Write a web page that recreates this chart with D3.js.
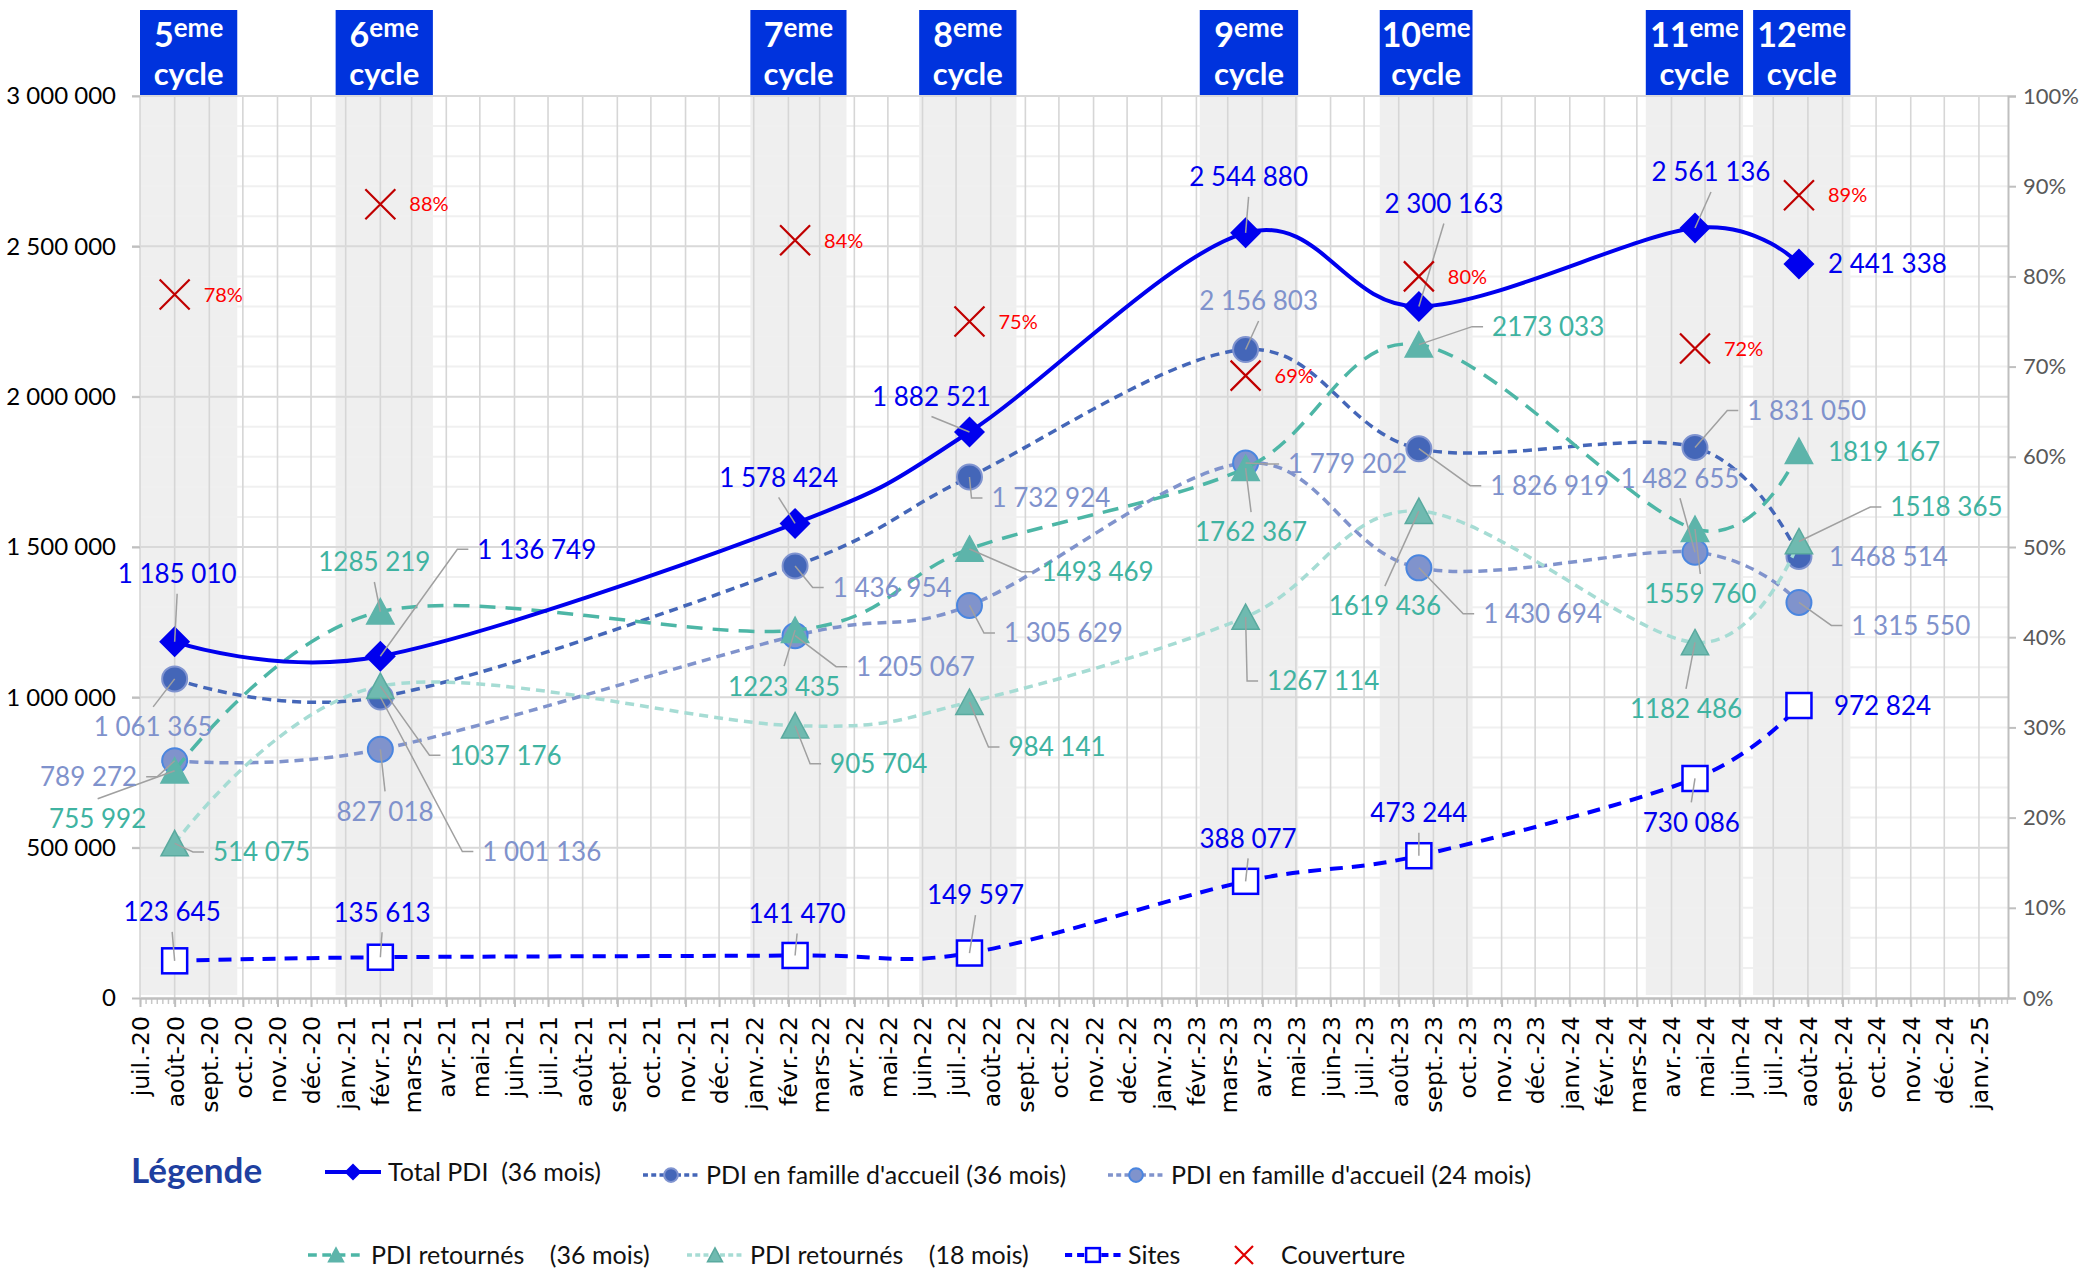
<!DOCTYPE html>
<html>
<head>
<meta charset="utf-8">
<script src="https://cdn.jsdelivr.net/npm/d3@7"></script>
<style>
  body { margin: 0; background: #fff; }
  svg text { font-family: Lato, "Open Sans", sans-serif; }
</style>
</head>
<body>
<svg id="chart" width="2080" height="1269"></svg>
<script>
// données des cycles
const cycles = ["5", "6", "7", "8", "9", "10", "11", "12"];
const cycleDates = ["2020-08-01", "2021-02-01", "2022-02-07", "2022-07-13", "2023-03-17", "2023-08-19", "2024-04-22", "2024-07-24"];
const cycleStart = ["2020-07-01", "2020-12-23", "2021-12-29", "2022-05-29", "2023-02-04", "2023-07-15", "2024-03-09", "2024-06-13"];
const cycleEnd = ["2020-09-26", "2021-03-20", "2022-03-25", "2022-08-24", "2023-05-03", "2023-10-06", "2024-06-04", "2024-09-08"];

const totalPDI = [1185010, 1136749, 1578424, 1882521, 2544880, 2300163, 2561136, 2441338];
const famille36 = [1061365, 1001136, 1436954, 1732924, 2156803, 1826919, 1831050, 1468514];
const famille24 = [789272, 827018, 1205067, 1305629, 1779202, 1430694, 1482655, 1315550];
const retournes36 = [755992, 1285219, 1223435, 1493469, 1762367, 2173033, 1559760, 1819167];
const retournes18 = [514075, 1037176, 905704, 984141, 1267114, 1619436, 1182486, 1518365];
const sites = [123645, 135613, 141470, 149597, 388077, 473244, 730086, 972824];
const couverture = [0.78, 0.88, 0.84, 0.75, 0.69, 0.80, 0.72, 0.89];

const moisAbbr = ["janv.", "févr.", "mars", "avr.", "mai", "juin", "juil.", "août", "sept.", "oct.", "nov.", "déc."];
const xStart = "2020-07-01", xEnd = "2025-01-27";
const leftMax = 3000000;

// placement des étiquettes (décalage par rapport au point)
const offTotal = [[2.5, -68, "v"], [97, -107, "h"], [-16.5, -46, "v"], [-38, -35.5, "v"], [3, -56, "v"], [25, -103, "v"], [16, -56, "v"], [29, 0, "r"]];
const offFam36 = [[-21.5, 48, "v"], [102, 154.5, "h"], [37.6, 21.5, "h"], [22, 21, "h"], [13, -48.5, "v"], [71.4, 37, "h"], [52.3, -37, "h"], [30, 0.5, "r"]];
const offFam24 = [[-37.5, 16, "hl"], [4.7, 62, "v"], [61, 31, "h"], [34.5, 27.6, "h"], [42.5, 1, "h"], [64.3, 46, "h"], [-15, -74, "v"], [52.4, 23, "h"]];
const offRet36 = [[-77, 48, "v"], [-6, -49.6, "v"], [-11, 56, "v"], [72, 22.7, "h"], [5.5, 64, "v"], [73.2, -18, "h"], [5.3, 65, "v"], [29, 1, "r"]];
const offRet18 = [[38.3, 8.6, "h"], [69.1, 69, "h"], [35, 38, "h"], [39, 45, "h"], [21.5, 64, "h"], [-34, 95, "v"], [-9, 66.5, "v"], [91.4, -34.5, "h"]];
const offSites = [[-2.5, -49, "v"], [1.7, -45, "v"], [2, -42, "v"], [6, -58, "v"], [2.5, -43, "v"], [0, -43, "v"], [-3.7, 44, "v"], [35, 0.5, "r"]];

const svg = d3.select("#chart");
const plotLeft = 140, plotRight = 2008, plotTop = 96, plotBottom = 998;
const parse = d3.timeParse("%Y-%m-%d");

const x = d3.scaleTime().domain([parse(xStart), parse(xEnd)]).range([plotLeft, plotRight]);
const y = d3.scaleLinear().domain([0, leftMax]).range([plotBottom, plotTop]);
const yR = d3.scaleLinear().domain([0, 1]).range([plotBottom, plotTop]);

const fr = d3.formatLocale({ decimal: ",", thousands: " ", grouping: [3], currency: ["", " €"] });
const fmtSpace = fr.format(",d");
const fmtRet = v => v >= 1e6 ? Math.floor(v / 1000) + " " + String(v % 1000).padStart(3, "0") : fmtSpace(v);
const fmtMonth = d => `${moisAbbr[d.getMonth()]}-${String(d.getFullYear()).slice(2)}`;

const dates = cycleDates.map(parse);

// bandes grises des cycles
svg.append("g").selectAll("rect")
    .data(cycles)
    .enter()
    .append("rect")
    .attr("x", (d, i) => x(parse(cycleStart[i])))
    .attr("width", (d, i) => x(parse(cycleEnd[i])) - x(parse(cycleStart[i])))
    .attr("y", plotTop)
    .attr("height", plotBottom - plotTop - 3)
    .attr("fill", "#efefef");

// grille
const grid = svg.append("g");
grid.selectAll(".hminor")
    .data(d3.range(0, leftMax + 1, 100000).filter(v => v % 500000 !== 0))
    .enter()
    .append("line")
    .attr("x1", plotLeft).attr("x2", plotRight)
    .attr("y1", d => y(d)).attr("y2", d => y(d))
    .attr("stroke", "#f0f0f0")
    .attr("stroke-width", 2);

grid.selectAll(".vgrid")
    .data(d3.timeMonth.range(parse(xStart), parse(xEnd)))
    .enter()
    .append("line")
    .attr("x1", d => x(d)).attr("x2", d => x(d))
    .attr("y1", plotTop).attr("y2", plotBottom)
    .attr("stroke", "#d6d6d6")
    .attr("stroke-width", 1.6);

grid.selectAll(".hmajor")
    .data(d3.range(500000, leftMax + 1, 500000))
    .enter()
    .append("line")
    .attr("x1", plotLeft - 8).attr("x2", plotRight)
    .attr("y1", d => y(d)).attr("y2", d => y(d))
    .attr("stroke", "#d9d9d9")
    .attr("stroke-width", 2);

// axe gauche
const yAxis = svg.append("g")
    .attr("transform", `translate(${plotLeft},0)`)
    .call(d3.axisLeft(y).tickValues(d3.range(0, leftMax + 1, 500000)).tickFormat(fmtSpace).tickSize(8).tickPadding(16));
yAxis.select(".domain").remove();
yAxis.selectAll("line").attr("stroke", "#bfbfbf").attr("stroke-width", 2);
yAxis.selectAll("text").style("font-size", "24px").attr("fill", "#000");

// axe droit
const yAxisR = svg.append("g")
    .attr("transform", `translate(${plotRight},0)`)
    .call(d3.axisRight(yR).tickValues(d3.range(0, 1.0001, 0.1)).tickFormat(d3.format(".0%")).tickSize(8).tickPadding(7));
yAxisR.select(".domain").attr("stroke", "#bfbfbf").attr("stroke-width", 2);
yAxisR.selectAll("line").attr("stroke", "#bfbfbf").attr("stroke-width", 2);
yAxisR.selectAll("text").style("font-size", "22px").attr("fill", "#595959");

// axe des dates
const xMinor = svg.append("g")
    .attr("transform", `translate(0,${plotBottom})`)
    .call(d3.axisBottom(x).ticks(d3.timeDay.every(5)).tickFormat("").tickSize(6));
xMinor.select(".domain").remove();
xMinor.selectAll("line").attr("stroke", "#c8c8c8").attr("stroke-width", 1.5);

const xAxis = svg.append("g")
    .attr("transform", `translate(0,${plotBottom})`)
    .call(d3.axisBottom(x).ticks(d3.timeMonth.every(1)).tickFormat(fmtMonth).tickSize(9).tickSizeOuter(0));
xAxis.select(".domain").attr("stroke", "#bfbfbf").attr("stroke-width", 2.5);
xAxis.selectAll("line").attr("stroke", "#bfbfbf").attr("stroke-width", 2);
xAxis.selectAll("text")
    .attr("transform", "rotate(-90)")
    .attr("text-anchor", "end")
    .attr("x", -18)
    .attr("y", 0)
    .attr("dy", "0.36em")
    .attr("fill", "#000")
    .style("font-family", "'DejaVu Sans', sans-serif")
    .style("font-size", "23.5px");

// en-têtes des cycles
const hdr = svg.append("g");
cycles.forEach((c, i) => {
    const x0 = x(parse(cycleStart[i])), x1 = x(parse(cycleEnd[i]));
    const cx = (x0 + x1) / 2;
    hdr.append("rect")
        .attr("x", x0).attr("y", 10)
        .attr("width", x1 - x0).attr("height", plotTop - 11)
        .attr("fill", "#0033dd");
    const t = hdr.append("text")
        .attr("text-anchor", "middle")
        .attr("fill", "#fff")
        .attr("font-weight", "bold");
    t.append("tspan").attr("x", cx).attr("y", 47).style("font-size", "34px").text(c);
    t.append("tspan").style("font-size", "26px").attr("dy", -10).text("eme");
    t.append("tspan").attr("x", cx).attr("y", 85).style("font-size", "31px").text("cycle");
});

// marqueurs
function marker(sel, type, s) {
    if (type === "diamond") {
        sel.append("path").attr("d", `M0,${-s.r}L${s.r},0L0,${s.r}L${-s.r},0Z`).attr("fill", s.fill);
    } else if (type === "circle") {
        sel.append("circle").attr("r", s.r).attr("fill", s.fill).attr("stroke", s.stroke).attr("stroke-width", 2);
    } else if (type === "triangle") {
        sel.append("path").attr("d", `M0,${-s.r}L${s.r * 1.05},${s.r * 0.95}L${-s.r * 1.05},${s.r * 0.95}Z`)
            .attr("fill", s.fill).attr("stroke", s.stroke).attr("stroke-width", 1.5);
    } else if (type === "square") {
        sel.append("rect").attr("x", -s.r).attr("y", -s.r).attr("width", 2 * s.r).attr("height", 2 * s.r)
            .attr("fill", "#fff").attr("stroke", s.stroke).attr("stroke-width", 2.5);
    } else if (type === "cross") {
        sel.append("path").attr("d", `M${-s.r},${-s.r}L${s.r},${s.r}M${s.r},${-s.r}L${-s.r},${s.r}`)
            .attr("stroke", s.stroke).attr("stroke-width", 2.2).attr("fill", "none");
    }
}

const series = [
    { name: "PDI en famille d'accueil (36 mois)", values: famille36, offsets: offFam36, fmt: fmtSpace,
      color: "#4466b8", dash: "9,6", width: 3.5, marker: "circle", mk: { r: 12.5, fill: "#4466b8", stroke: "#8094d0" }, labelColor: "#7f92cc" },
    { name: "PDI en famille d'accueil (24 mois)", values: famille24, offsets: offFam24, fmt: fmtSpace,
      color: "#8093cc", dash: "9,6", width: 3.5, marker: "circle", mk: { r: 12.5, fill: "#8093cc", stroke: "#4a86e0" }, labelColor: "#7f92cc" },
    { name: "PDI retournés    (36 mois)", values: retournes36, offsets: offRet36, fmt: fmtRet,
      color: "#4db6a6", dash: "16,10", width: 3.5, marker: "triangle", mk: { r: 13, fill: "#5db4aa", stroke: "#5db4aa" }, labelColor: "#3fb3a1" },
    { name: "PDI retournés    (18 mois)", values: retournes18, offsets: offRet18, fmt: fmtRet,
      color: "#a6dcd4", dash: "9,6", width: 3.5, marker: "triangle", mk: { r: 13, fill: "#6fbab0", stroke: "#5aaa9f" }, labelColor: "#3fb3a1" },
    { name: "Total PDI  (36 mois)", values: totalPDI, offsets: offTotal, fmt: fmtSpace,
      color: "#0000ee", dash: null, width: 4, marker: "diamond", mk: { r: 15.5, fill: "#0000ee" }, labelColor: "#0000ee" },
    { name: "Sites", values: sites, offsets: offSites, fmt: fmtSpace,
      color: "#0000ff", dash: "13,9", width: 4, marker: "square", mk: { r: 12.5, stroke: "#0000ff" }, labelColor: "#0000ee" }
];

const lineG = svg.append("g");
const leaderG = svg.append("g");
const labelG = svg.append("g");

series.forEach(s => {
    const pts = s.values.map((v, i) => [x(dates[i]), y(v)]);
    const g = lineG.append("g");
    g.append("path")
        .attr("d", d3.line().curve(d3.curveCardinal.tension(0))(pts))
        .attr("fill", "none")
        .attr("stroke", s.color)
        .attr("stroke-width", s.width)
        .attr("stroke-dasharray", s.dash);
    pts.forEach(p => marker(g.append("g").attr("transform", `translate(${p[0]},${p[1]})`), s.marker, s.mk));
    pts.forEach((p, i) => addLabel(p[0], p[1], s.offsets[i], s.fmt(s.values[i]), s.labelColor));
});

function addLabel(px, py, off, text, color) {
    const [dx, dy, type] = off;
    const cy = py + dy;
    labelG.append("text")
        .attr("x", px + dx)
        .attr("y", cy)
        .attr("dy", "0.36em")
        .attr("fill", color)
        .style("font-size", "26px")
        .attr("text-anchor", type === "v" ? "middle" : type === "hl" ? "end" : "start")
        .text(text);
    let pts = null;
    if (type === "h") {
        const lx = px + dx - 9;
        pts = [[px, py], [lx - 11, cy], [lx, cy]];
    } else if (type === "hl") {
        const lx = px + dx + 9;
        pts = [[px, py], [lx + 11, cy], [lx, cy]];
    } else if (type === "v") {
        pts = [[px + dx, dy < 0 ? cy + 20 : cy - 20], [px, py]];
    }
    if (pts) {
        leaderG.append("path")
            .attr("d", d3.line()(pts))
            .attr("fill", "none")
            .attr("stroke", "#a0a0a0")
            .attr("stroke-width", 1.5);
    }
}

// couverture (axe droit)
const covG = svg.append("g");
couverture.forEach((c, i) => {
    const px = x(dates[i]), py = yR(c);
    marker(covG.append("g").attr("transform", `translate(${px},${py})`), "cross", { r: 15, stroke: "#c00000" });
    covG.append("text")
        .attr("x", px + 29).attr("y", py).attr("dy", "0.36em")
        .attr("fill", "#ff0000")
        .style("font-size", "20px")
        .text(d3.format(".0%")(c));
});

// légende
const legendItems = [
    { s: series[4], lx: 325, ty: 1172 },
    { s: series[0], lx: 643, ty: 1175 },
    { s: series[1], lx: 1108, ty: 1175 },
    { s: series[2], lx: 308, ty: 1255 },
    { s: series[3], lx: 687, ty: 1255 },
    { s: series[5], lx: 1065, ty: 1255 }
];
const legend = svg.append("g");
legend.append("text")
    .attr("x", 131).attr("y", 1183)
    .attr("fill", "#1e3fa0")
    .attr("font-weight", "bold")
    .style("font-size", "35px")
    .text("Légende");

legendItems.forEach(it => {
    const s = it.s;
    const g = legend.append("g").attr("transform", `translate(${it.lx},${it.ty})`);
    g.append("line")
        .attr("x1", 0).attr("x2", 56)
        .attr("stroke", s.color)
        .attr("stroke-width", s.width)
        .attr("stroke-dasharray", s.dash ? s.dash.split(",").map(v => v * 0.55).join(",") : null);
    const mk = Object.assign({}, s.mk, { r: s.mk.r * 0.55 });
    marker(g.append("g").attr("transform", "translate(28,0)"), s.marker, mk);
    g.append("text")
        .attr("x", 63).attr("y", 0).attr("dy", "0.36em")
        .attr("fill", "#111")
        .style("font-size", "25px")
        .style("white-space", "pre")
        .text(s.name);
});

const covLeg = legend.append("g").attr("transform", "translate(1244,1255)");
marker(covLeg, "cross", { r: 9, stroke: "#e00000" });
covLeg.append("text")
    .attr("x", 37).attr("y", 0).attr("dy", "0.36em")
    .attr("fill", "#111")
    .style("font-size", "25px")
    .text("Couverture");
</script>
</body>
</html>
